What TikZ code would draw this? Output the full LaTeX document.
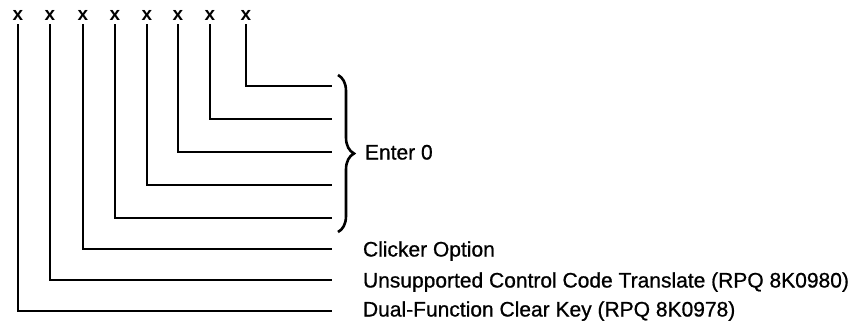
\documentclass[tikz,border=0pt]{standalone}
\usepackage{fontspec}
\setmainfont{Liberation Sans}
\newfontfamily\heavysans[FakeBold=0.8]{Liberation Sans}
\usetikzlibrary{decorations.pathreplacing}

\begin{document}
\begin{tikzpicture}[x=1pt, y=-1pt, line width=2pt,
		xmark/.style={font=\fontsize{19}{24}\selectfont\bfseries},
		lbl/.style={anchor=base west, inner sep=0pt, yshift=-7.5pt, font=\fontsize{21}{24}\selectfont\heavysans}]
		\useasboundingbox (0,0) rectangle (853,325);
		
		\node[xmark] (X1) at (18,15) {x};
		\node[xmark] (X2) at (50,15) {x};
		\node[xmark] (X3) at (83,15) {x};
		\node[xmark] (X4) at (115,15) {x};
		\node[xmark] (X5) at (147,15) {x};
		\node[xmark] (X6) at (178,15) {x};
		\node[xmark] (X7) at (210,15) {x};
		\node[xmark] (X8) at (246,15) {x};
		
		\coordinate (E1) at (332,311);
		\coordinate (E2) at (332,280);
		\coordinate (E3) at (332,249);
		\coordinate (E4) at (332,218);
		\coordinate (E5) at (332,185);
		\coordinate (E6) at (332,152);
		\coordinate (E7) at (332,119);
		\coordinate (E8) at (332,86);
		
		\draw (X1) |- (E1);
		\draw (X2) |- (E2);
		\draw (X3) |- (E3);
		\draw (X4) |- (E4);
		\draw (X5) |- (E5);
		\draw (X6) |- (E6);
		\draw (X7) |- (E7);
		\draw (X8) |- (E8);
		
		\coordinate (B1) at (338,75);
		\coordinate (B2) at (338,232);
		\draw[decorate, decoration={brace, amplitude=16pt}, line width=2.6pt] (B1) -- (B2);
		
		\node[lbl] (L0) at (364,152) {Enter 0};
		\node[lbl] (L1) at (362,249) {Clicker Option};
		\node[lbl] (L2) at (362,280) {Unsupported Control Code Translate (RPQ 8K0980)};
		\node[lbl] (L3) at (362,309) {Dual-Function Clear Key (RPQ 8K0978)};
		
	\end{tikzpicture}
\end{document}
